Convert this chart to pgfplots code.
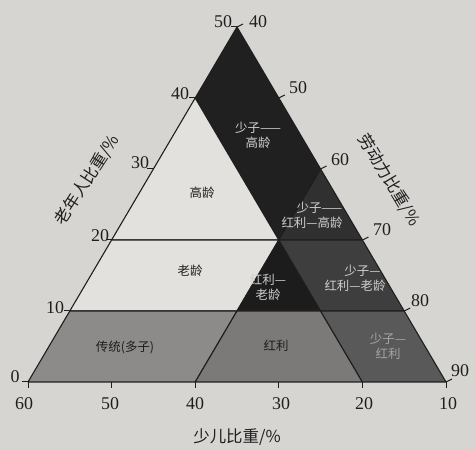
\documentclass[border=0pt]{standalone}
\usepackage{pgfplots}
\pgfplotsset{compat=1.18}
\usepackage{fontspec}
\setmainfont{Liberation Serif}
\newfontfamily\cjk{Noto Sans CJK SC}

\definecolor{paper}{HTML}{D6D5D2}
\definecolor{lite}{HTML}{E2E1DE}
\definecolor{ink}{HTML}{1E1E1E}
\definecolor{txtlite}{HTML}{CFCFCF}
\definecolor{rA}{HTML}{202020}
\definecolor{rB}{HTML}{303030}
\definecolor{rE}{HTML}{1C1C1C}
\definecolor{rF}{HTML}{3E3E3E}
\definecolor{rG}{HTML}{8C8B8A}
\definecolor{rH}{HTML}{7B7A79}
\definecolor{rI}{HTML}{5A5959}

% ternary (child c, elderly e) -> picture position
\newcommand{\tx}{28+8.36*(60-\thisrow{c}-0.5*\thisrow{e})}
\newcommand{\ty}{382-7.1*\thisrow{e}}

\begin{document}
\begin{tikzpicture}
\begin{axis}[
  width=475bp, height=450bp, scale only axis,
  xmin=0, xmax=475, ymin=0, ymax=450, y dir=reverse,
  hide axis, clip=false,
  every axis plot/.append style={draw=ink, line width=1.1pt, line join=round},
]
\fill[paper] (axis cs:0,0) rectangle (axis cs:475,450);

% regions
\addplot[fill=rA] table[row sep=\\, x expr=\tx, y expr=\ty]
  {c e\\ 20 40\\ 10 50\\ 10 30\\ 20 20\\} -- cycle;
\addplot[fill=rB] table[row sep=\\, x expr=\tx, y expr=\ty]
  {c e\\ 10 30\\ 10 20\\ 20 20\\} -- cycle;
\addplot[fill=lite] table[row sep=\\, x expr=\tx, y expr=\ty]
  {c e\\ 40 20\\ 20 40\\ 20 20\\} -- cycle;
\addplot[fill=lite] table[row sep=\\, x expr=\tx, y expr=\ty]
  {c e\\ 40 20\\ 20 20\\ 30 10\\ 50 10\\} -- cycle;
\addplot[fill=rE] table[row sep=\\, x expr=\tx, y expr=\ty]
  {c e\\ 20 20\\ 30 10\\ 20 10\\} -- cycle;
\addplot[fill=rF] table[row sep=\\, x expr=\tx, y expr=\ty]
  {c e\\ 20 20\\ 10 20\\ 10 10\\ 20 10\\} -- cycle;
\addplot[fill=rG] table[row sep=\\, x expr=\tx, y expr=\ty]
  {c e\\ 60 0\\ 40 0\\ 30 10\\ 50 10\\} -- cycle;
\addplot[fill=rH] table[row sep=\\, x expr=\tx, y expr=\ty]
  {c e\\ 40 0\\ 20 0\\ 20 10\\ 30 10\\} -- cycle;
\addplot[fill=rI] table[row sep=\\, x expr=\tx, y expr=\ty]
  {c e\\ 20 0\\ 10 0\\ 10 10\\ 20 10\\} -- cycle;

% tick dashes
\begin{scope}[ink, line width=1pt]
\draw (axis cs:28,382) -- (axis cs:22,382);
\draw (axis cs:69.8,311) -- (axis cs:63.8,311);
\draw (axis cs:111.6,240) -- (axis cs:105.6,240);
\draw (axis cs:153.4,169) -- (axis cs:147.4,169);
\draw (axis cs:195.2,98) -- (axis cs:189.2,98);
\draw (axis cs:237,27) -- (axis cs:231,27);
\draw (axis cs:237,27) -- (axis cs:243,24);
\draw (axis cs:278.8,98) -- (axis cs:284.8,95);
\draw (axis cs:320.6,169) -- (axis cs:326.6,166);
\draw (axis cs:362.4,240) -- (axis cs:368.4,237);
\draw (axis cs:404.2,311) -- (axis cs:410.2,308);
\draw (axis cs:446,382) -- (axis cs:452,379);
\draw (axis cs:28,382) -- (axis cs:28,388);
\draw (axis cs:111.6,382) -- (axis cs:111.6,388);
\draw (axis cs:195.2,382) -- (axis cs:195.2,388);
\draw (axis cs:278.8,382) -- (axis cs:278.8,388);
\draw (axis cs:362.4,382) -- (axis cs:362.4,388);
\draw (axis cs:446,382) -- (axis cs:446,388);
\end{scope}

% tick labels
\begin{scope}[every node/.style={font=\fontsize{18}{20}\selectfont, text=ink, inner sep=0pt}]
\node at (axis cs:15,377) {0};
\node at (axis cs:55,308) {10};
\node at (axis cs:100,236) {20};
\node at (axis cs:140,163) {30};
\node at (axis cs:180,94) {40};
\node at (axis cs:223,22) {50};
\node at (axis cs:258,22) {40};
\node at (axis cs:298,88) {50};
\node at (axis cs:340,160) {60};
\node at (axis cs:382,230) {70};
\node at (axis cs:420,301) {80};
\node at (axis cs:460,371) {90};
\node at (axis cs:24,404) {60};
\node at (axis cs:110,404) {50};
\node at (axis cs:195,404) {40};
\node at (axis cs:281,404) {30};
\node at (axis cs:364,404) {20};
\node at (axis cs:448,404) {10};
\end{scope}

% axis titles
\begin{scope}[every node/.style={font=\cjk\fontsize{16.5}{19}\selectfont, text=ink, inner sep=0pt}]
\node[rotate=57] at (axis cs:87,180) {老年人比重/\%};
\node[rotate=-59] at (axis cs:389,180) {劳动力比重/\%};
\node at (axis cs:237,437) {少儿比重/\%};
\end{scope}

% region labels
\begin{scope}[every node/.style={font=\cjk\fontsize{12.5}{15}\selectfont, align=center, inner sep=0pt}]
\node[text=txtlite] at (axis cs:258,135) {少子——\\高龄};
\node[text=ink] at (axis cs:202,193) {高龄};
\node[text=txtlite] at (axis cs:312,215) {\hspace*{1.2em}少子——\\红利—高龄};
\node[text=ink] at (axis cs:190,271) {老龄};
\node[text=txtlite] at (axis cs:268,287) {红利—\\老龄};
\node[text=txtlite] at (axis cs:355,278) {\hspace*{1.2em}少子—\\红利—老龄};
\node[text=ink] at (axis cs:125,347) {传统(多子)};
\node[text=ink] at (axis cs:276,346) {红利};
\node[text=txtlite!80!black] at (axis cs:388,346) {少子—\\红利};
\end{scope}
\end{axis}
\end{tikzpicture}
\end{document}
